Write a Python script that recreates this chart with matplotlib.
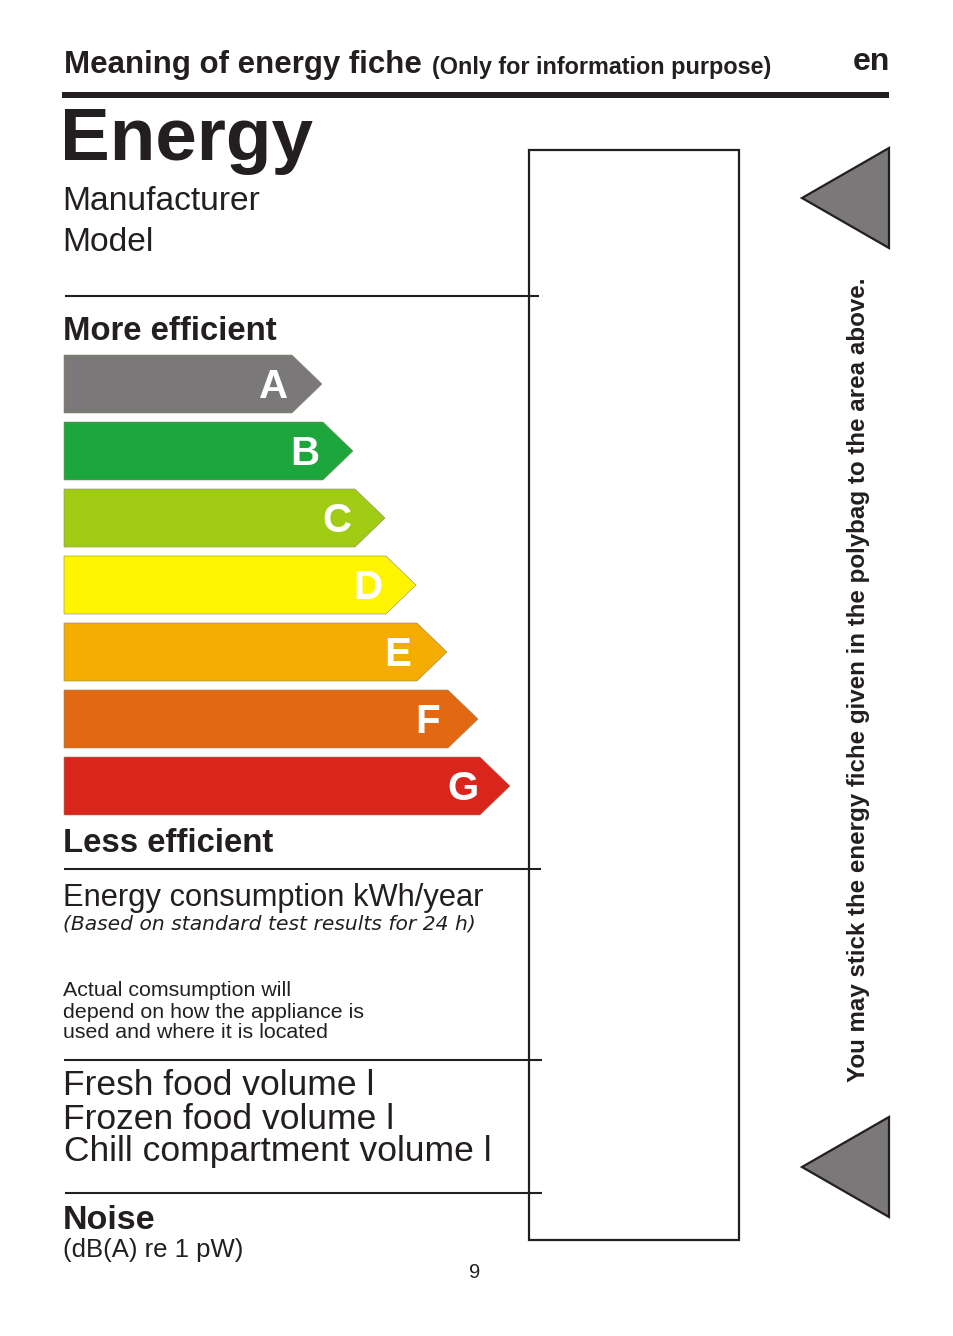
import matplotlib
matplotlib.use("Agg")
import matplotlib.pyplot as plt
from matplotlib.patches import Polygon, Rectangle

plt.rcParams['font.family'] = ['Liberation Sans', 'DejaVu Sans']

grades = ['A', 'B', 'C', 'D', 'E', 'F', 'G']
grade_lengths = [258, 289, 321, 352, 383, 414, 446]
grade_colors = ['#7a7879', '#1ca63c', '#a0cd14', '#fff500', '#f4ac00', '#e26812', '#da251c']
W, H = 954, 1336
BAR_H = 58
TIP = 30

fig = plt.figure(figsize=(W/100, H/100), dpi=100)
ax = fig.add_axes([0, 0, 1, 1])
ax.set_xlim(0, W)
ax.set_ylim(H, 0)
ax.axis('off')

def t(x, y, s, size, **kw):
    kw.setdefault('va', 'baseline')
    kw.setdefault('color', '#231f20')
    return ax.text(x, y, s, fontsize=size, **kw)

t(64, 73, 'Meaning of energy fiche', 22.5, fontweight='bold')
t(432, 74, '(Only for information purpose)', 16.8, fontweight='bold')
t(853, 70, 'en', 23, fontweight='bold')
ax.add_patch(Rectangle((62, 92), 827, 5.5, color='#231f20', lw=0))

t(60, 160, 'Energy', 53.7, fontweight='bold')
t(62, 210, 'Manufacturer', 24.2)
t(62, 251, 'Model', 24.2)

ax.add_patch(Rectangle((529, 150), 210, 1090, fc='white', ec='#231f20', lw=1.6, zorder=3))
for x0, x1, y in [(65, 539, 296), (64, 541, 869), (64, 542, 1060), (65, 542, 1193)]:
    ax.plot([x0, x1], [y, y], color='#231f20', lw=1.5, solid_capstyle='butt', zorder=4)

t(63, 340, 'More efficient', 23.7, fontweight='bold')
t(63, 852, 'Less efficient', 23.7, fontweight='bold')

for i, (g, L, c) in enumerate(zip(grades, grade_lengths, grade_colors)):
    top = 355 + i * 67.0
    x0 = 64
    end = x0 + L
    pts = [(x0, top), (end - TIP, top), (end, top + BAR_H/2), (end - TIP, top + BAR_H), (x0, top + BAR_H)]
    ax.add_patch(Polygon(pts, closed=True, fc=c, ec='#8a8a6a', lw=0.4))
    t(end - 63, top + 43, g, 29, fontweight='bold', color='white', ha='left')

t(63, 906, 'Energy consumption kWh/year', 22.2)
t(63, 930, '(Based on standard test results for 24 h)', 14.6, style='italic', family='DejaVu Sans')
for y, s in zip([996, 1018, 1038], ['Actual comsumption will', 'depend on how the appliance is', 'used and where it is located']):
    t(63, y, s, 15.4)
for y, x, s in zip([1095, 1129, 1161], [63, 63, 64], ['Fresh food volume l', 'Frozen food volume l', 'Chill compartment volume l']):
    t(x, y, s, 25.5)
t(63, 1229, 'Noise', 24.5, fontweight='bold')
t(63, 1257, '(dB(A) re 1 pW)', 18.5)
t(475, 1278, '9', 14.5, ha='center')

t(859, 679.5, 'You may stick the energy fiche given in the polybag to the area above.', 17.4,
  fontweight='bold', rotation=90, ha='center', va='center', rotation_mode='anchor')

for ytop in [148, 1117]:
    ax.add_patch(Polygon([(889, ytop), (802, ytop + 50), (889, ytop + 100)], closed=True,
                         fc='#7a7879', ec='#231f20', lw=1.6))

fig.savefig('out.png', dpi=100, facecolor='white')
